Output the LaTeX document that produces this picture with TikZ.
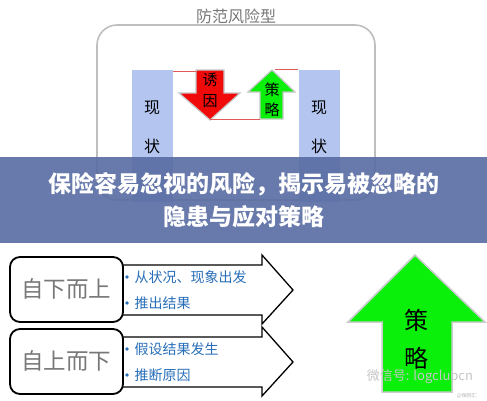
\documentclass[tikz,border=0pt]{standalone}
\usepackage{fontspec}
\setmainfont{Noto Sans CJK SC}
\usepackage{xcolor}
\usetikzlibrary{positioning}

\definecolor{boxgray}{RGB}{190,190,190}
\definecolor{titlegray}{RGB}{120,120,120}
\definecolor{colblue}{RGB}{180,198,240}
\definecolor{bannerblue}{RGB}{88,108,162}
\definecolor{bulletblue}{RGB}{40,110,185}
\definecolor{brightgreen}{RGB}{10,240,10}
\definecolor{arrowred}{RGB}{240,10,10}
\definecolor{linkred}{RGB}{225,90,90}

\tikzset{
    fs/.style={font=\fontsize{#1}{#1}\selectfont},
    bannertext/.style={font=\fontsize{23}{23}\selectfont\bfseries, text=white},
    tinyarrow/.style={draw=gray!45, line width=1.2pt},
    linkline/.style={draw=linkred, line width=0.6pt},
    rowarrow/.style={draw=black, line width=1.3pt, fill=white},
    rowbox/.style={draw=black, line width=1.8pt, fill=white, rounded corners=10pt},
}

\begin{document}
\begin{tikzpicture}[x=1pt,y=-1pt]
    \useasboundingbox[fill=white] (0,0) rectangle (487,400);
    % top part
    \node[fs=16, text=titlegray] (title) at (236,16) {防范风险型};
    \draw[boxgray, line width=1.6pt, rounded corners=20pt] (97,25) rectangle (375,200);
    \foreach \xa/\nm in {132/lcol, 299/rcol} {
        \fill[colblue] (\xa,70) rectangle ++(41,132);
        \coordinate (\nm) at (\xa+41,71);
        \node[fs=16] (\nm-a) at (\xa+20,108) {现};
        \node[fs=16] (\nm-b) at (\xa+20,146) {状};
    }
    \draw[tinyarrow, fill=arrowred] (196,70) -- (224,70) -- (224,93) -- (240,93) -- (210,120) -- (179,93) -- (196,93) -- cycle;
    \draw[tinyarrow, fill=brightgreen] (272,70) -- (295,92) -- (283,92) -- (283,119) -- (260,119) -- (260,92) -- (248,92) -- cycle;
    \node[fs=15] (cause-a) at (210,80) {诱};
    \node[fs=15] (cause-b) at (210,101) {因};
    \node[fs=15] (plan-a) at (272,90) {策};
    \node[fs=15] (plan-b) at (272,110) {略};
    \coordinate (redtop) at (196,71);
    \coordinate (redtip) at (210,119);
    \coordinate (greenfoot) at (260,119);
    \coordinate (greentop) at (275,69);
    \coordinate (rcoltop) at (298,69);
    \draw[linkline] (lcol) -- (redtop);
    \draw[linkline] (redtip) -- (greenfoot);
    \draw[linkline] (greentop) -- (rcoltop);
    % banner
    \fill[bannerblue, fill opacity=0.9] (0,157) rectangle (487,243);
    \node[bannertext] (head-a) at (244,184) {保险容易忽视的风险，揭示易被忽略的};
    \node[bannertext] (head-b) at (244,217) {隐患与应对策略};
    % bottom rows
    \foreach \dy/\way/\pa/\pb in {0/自下而上/从状况、现象出发/推出结果, 72/自上而下/假设结果发生/推断原因} {
        \begin{scope}[yshift=-\dy pt]
            \draw[rowarrow] (120,265) -- (262,265) -- (262,255) -- (293,290) -- (262,324) -- (262,315) -- (120,315);
            \draw[rowbox] (10,257) rectangle (123,322);
            \node[fs=22.5, text=titlegray] (way\dy) at (66,289) {\way};
            \fill[bulletblue] (127,277) circle (1.8);
            \fill[bulletblue] (127,303) circle (1.8);
            \node[fs=14, text=bulletblue, anchor=west] (pa\dy) at (131,277) {\pa};
            \node[fs=14, text=bulletblue, anchor=west] (pb\dy) at (131,303) {\pb};
        \end{scope}
    }
    % big arrow
    \draw[draw=gray!40, line width=1.5pt, fill=brightgreen] (415,255) -- (485,322) -- (452,322) -- (452,392) -- (382,392) -- (382,322) -- (348,322) -- cycle;
    \node[fs=24] (big-a) at (416,320) {策};
    \node[fs=24] (big-b) at (416,358) {略};
    \node[fs=13, text=gray!45] (mark) at (420,377) {微信号: logclubcn};
    \node[fs=5, text=gray!60] (src) at (467,396) {@保险汇};
\end{tikzpicture}
\end{document}
